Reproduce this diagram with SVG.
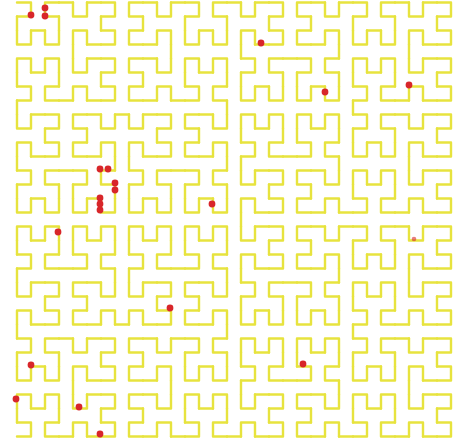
<svg xmlns="http://www.w3.org/2000/svg" xmlns:xlink="http://www.w3.org/1999/xlink" width="458" height="439" viewBox="0 0 458 439">
<style>
.c{fill:none;stroke:#e7e33e;stroke-width:2.4;stroke-linecap:round;stroke-linejoin:round}
.d{fill:#d8262a}
</style>
<defs>
<g id="h1"><path class="c" d="M0,0V14H14V0"/></g>
<g id="h2">
<use xlink:href="#h1" transform="matrix(0,1,1,0,0,0)"/>
<use xlink:href="#h1" transform="translate(0,28)"/>
<use xlink:href="#h1" transform="translate(28,28)"/>
<use xlink:href="#h1" transform="matrix(0,-1,-1,0,42,14)"/>
<path class="c" d="M0,14V28M14,28H28M42,28V14"/>
</g>
<g id="h3">
<use xlink:href="#h2" transform="matrix(0,1,1,0,0,0)"/>
<use xlink:href="#h2" transform="translate(0,56)"/>
<use xlink:href="#h2" transform="translate(56,56)"/>
<use xlink:href="#h2" transform="matrix(0,-1,-1,0,98,42)"/>
<path class="c" d="M0,42V56M42,56H56M98,56V42"/>
</g>
<g id="h4">
<use xlink:href="#h3" transform="matrix(0,1,1,0,0,0)"/>
<use xlink:href="#h3" transform="translate(0,112)"/>
<use xlink:href="#h3" transform="translate(112,112)"/>
<use xlink:href="#h3" transform="matrix(0,-1,-1,0,210,98)"/>
<path class="c" d="M0,98V112M98,112H112M210,112V98"/>
</g>
<g id="h5">
<use xlink:href="#h4" transform="matrix(0,1,1,0,0,0)"/>
<use xlink:href="#h4" transform="translate(0,224)"/>
<use xlink:href="#h4" transform="translate(224,224)"/>
<use xlink:href="#h4" transform="matrix(0,-1,-1,0,434,210)"/>
<path class="c" d="M0,210V224M210,224H224M434,224V210"/>
</g>
</defs>
<rect width="458" height="439" fill="#ffffff"/>
<g id="curve" transform="matrix(0,1,1,0,17,2.5)">
<use xlink:href="#h5"/>
</g>
<g id="points">
<circle class="d" cx="31" cy="15" r="3.4"/>
<circle class="d" cx="45" cy="8" r="3.4"/>
<circle class="d" cx="45" cy="16" r="3.4"/>
<circle class="d" cx="261" cy="43" r="3.4"/>
<circle class="d" cx="325" cy="92" r="3.4"/>
<circle class="d" cx="409" cy="85" r="3.4"/>
<circle class="d" cx="100" cy="169" r="3.4"/>
<circle class="d" cx="108" cy="169" r="3.4"/>
<circle class="d" cx="115" cy="183" r="3.4"/>
<circle class="d" cx="115" cy="190" r="3.4"/>
<circle class="d" cx="100" cy="198" r="3.4"/>
<circle class="d" cx="100" cy="204" r="3.4"/>
<circle class="d" cx="100" cy="210" r="3.4"/>
<circle class="d" cx="58" cy="232" r="3.4"/>
<circle class="d" cx="212" cy="204" r="3.4"/>
<circle class="d" cx="414" cy="239" r="2.3" fill-opacity="0.6"/>
<circle class="d" cx="170" cy="308" r="3.4"/>
<circle class="d" cx="31" cy="365" r="3.4"/>
<circle class="d" cx="16" cy="399" r="3.4"/>
<circle class="d" cx="79" cy="407" r="3.4"/>
<circle class="d" cx="100" cy="434" r="3.4"/>
<circle class="d" cx="303" cy="364" r="3.4"/>
</g>
</svg>
